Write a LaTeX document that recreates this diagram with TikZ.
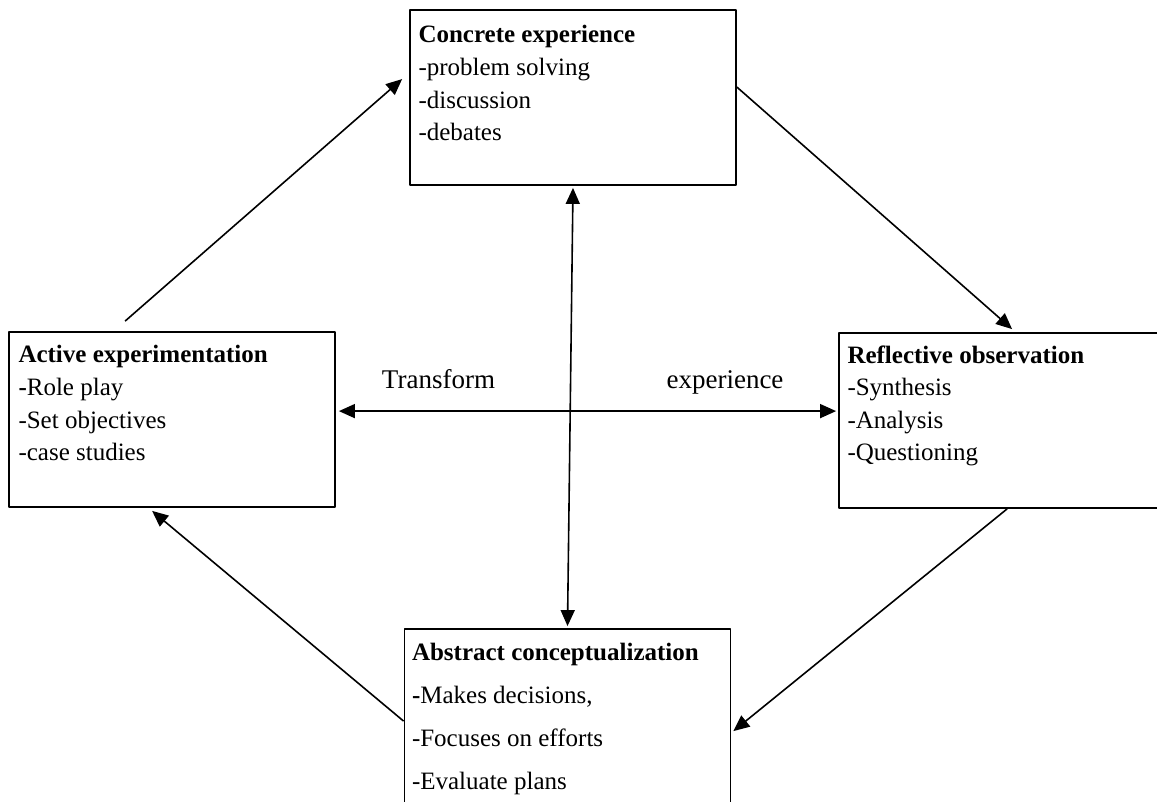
\documentclass[tikz,border=0pt]{standalone}
\usepackage{fontspec}
\setmainfont{Liberation Serif}
\usetikzlibrary{arrows.meta}
\begin{document}
\begin{tikzpicture}[x=0.5pt, y=-0.5pt, line join=round, >={Triangle[length=8pt,width=7pt]},
		box/.style={draw, line width=0.9pt, minimum width=163pt, minimum height=87.5pt, inner sep=0pt},
		txt/.style={anchor=north west, align=left, inner sep=0pt, font=\fontsize{12.5}{16.3}\selectfont},
		link/.style={line width=0.8pt},
		lbl/.style={anchor=base, inner sep=0pt, font=\fontsize{13.5}{16}\selectfont}]
		\clip (0,0) rectangle (1157,802);
		\node[box] (ce) at (573,97.5) {};
		\node[box] (ae) at (172,419.5) {};
		\node[box] (ro) at (1002,420.5) {};
		\node[box, minimum height=105.5pt] (ac) at (567.5,734.5) {};
		\node[txt] (ce-t) at ([shift={(9,16)}]ce.north west) {\textbf{Concrete experience}\\-problem solving\\-discussion\\-debates};
		\node[txt] (ae-t) at ([shift={(10,14)}]ae.north west) {\textbf{Active experimentation}\\\textbf{-}Role play\\-Set objectives\\-case studies};
		\node[txt] (ro-t) at ([shift={(9,13)}]ro.north west) {\textbf{Reflective observation}\\-Synthesis\\-Analysis\\-Questioning};
		\node[txt, font=\fontsize{12.5}{21.5}\selectfont] (ac-t) at ([shift={(8,15)}]ac.north west) {\textbf{Abstract conceptualization}\\\textbf{-}Makes decisions,\\-Focuses on efforts\\-Evaluate plans};
		\draw[link,->] ([shift={(117,-10)}]ae.north west)--([shift={(-7,70)}]ce.north west);
		\draw[link,->] ([shift={(0,78)}]ce.north east)--([shift={(174,-3)}]ro.north west);
		\draw[link,->] ([shift={(169,0)}]ro.south west)--([shift={(2,103)}]ac.north east);
		\draw[link,->] ([shift={(0,93)}]ac.north west)--([shift={(144,3)}]ae.south west);
		\draw[link,<->] ([shift={(0,2)}]ce.south)--([shift={(0,-2)}]ac.north);
		\draw[link,<->] ([shift={(3,80)}]ae.north east)--([shift={(-2,79)}]ro.north west);
		\node[lbl] (tr) at (438.5,388) {Transform};
		\node[lbl] (ex) at (725,388) {experience};
\end{tikzpicture}
\end{document}
